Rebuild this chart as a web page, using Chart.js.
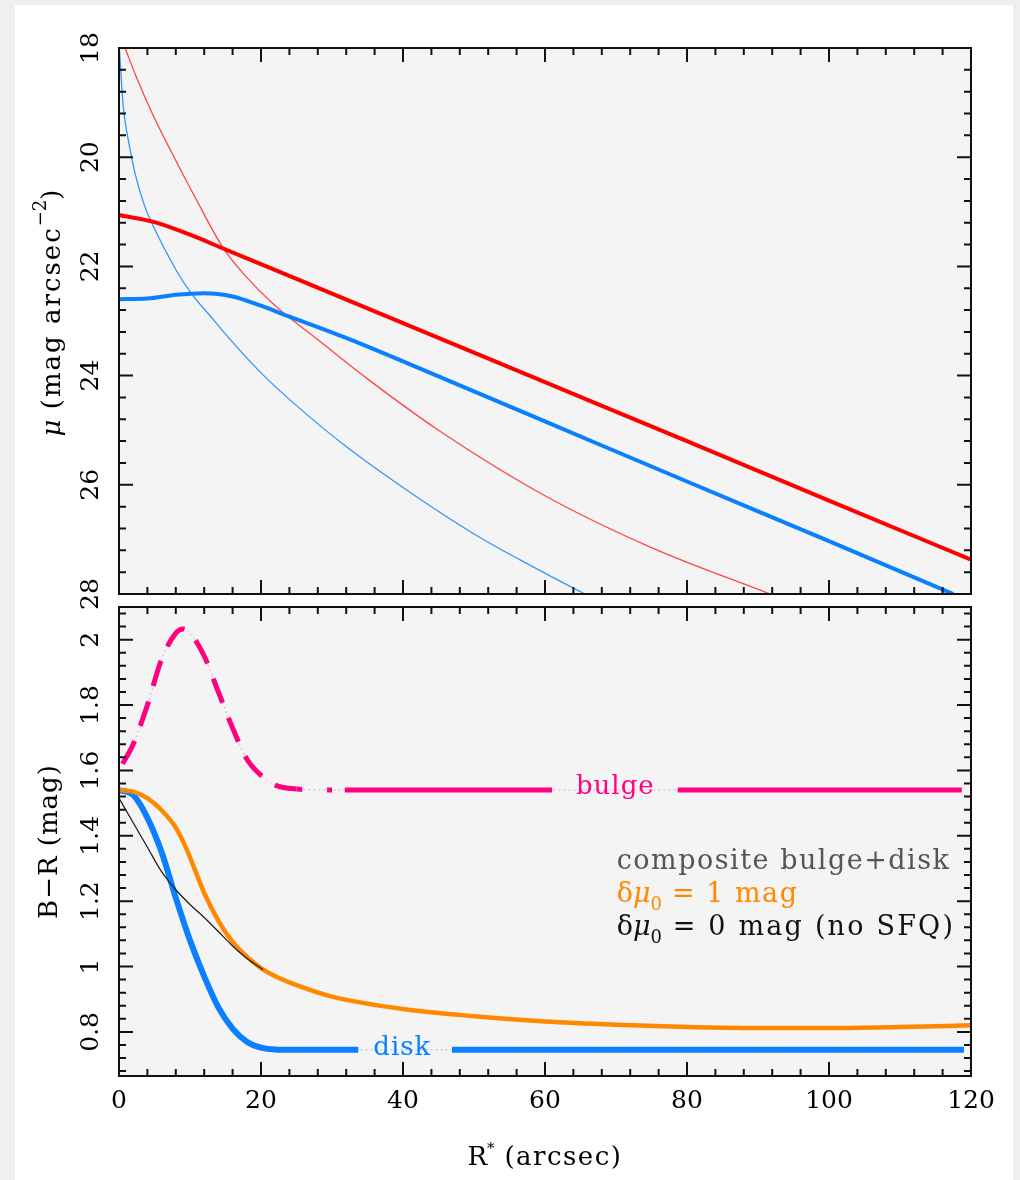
<!DOCTYPE html>
<html>
<head>
<meta charset="utf-8">
<title>Bulge and disk profiles</title>
<script src="https://cdn.jsdelivr.net/npm/chart.js@4.4.1/dist/chart.umd.min.js"></script>
<style>
  html, body { margin: 0; padding: 0; background: #efefef; }
  #card { position: absolute; left: 15px; top: 5px; width: 998px; height: 1180px; background: #fff; }
  canvas { position: absolute; left: 0; }
  #profiles { top: 0; }
  #colours { top: 600px; }
</style>
</head>
<body>
<div id="card"></div>
<canvas id="profiles" width="1020" height="615"></canvas>
<canvas id="colours" width="1020" height="580"></canvas>
<script>
// axis ticks
const xTicks = [0, 20, 40, 60, 80, 100, 120];
const muTicks = [18, 20, 22, 24, 26, 28];
const colourTicks = [0.8, 1, 1.2, 1.4, 1.6, 1.8, 2];

// surface brightness, R band (red) and B band (blue)
const diskRR = [0, 5, 10, 15, 20, 30, 40, 60, 80, 100, 120];
const diskRMu = [21.06, 21.19, 21.42, 21.69, 21.96, 22.50, 23.04, 24.12, 25.20, 26.29, 27.37];
const diskBR = [0, 4, 8, 12, 16, 20, 24, 28, 32, 40, 60, 80, 100, 117.5];
const diskBMu = [22.60, 22.59, 22.52, 22.49, 22.55, 22.72, 22.92, 23.11, 23.31, 23.74, 24.84, 25.94, 27.03, 28.0];
const bulgeRR = [0.85, 2.5, 4.8, 7.6, 10.9, 14.7, 18, 22, 27.8, 35, 45, 60, 75, 91.7];
const bulgeRMu = [18.0, 18.55, 19.23, 19.96, 20.78, 21.67, 22.2, 22.72, 23.32, 24.06, 25.0, 26.2, 27.15, 28.0];
const bulgeBR = [0.05, 0.6, 1.3, 2.25, 3.65, 4.6, 8.1, 10.2, 12.8, 15.4, 20, 25, 32, 40, 50, 58, 65.6];
const bulgeBMu = [18.0, 19.07, 19.68, 20.29, 20.91, 21.2, 22.08, 22.5, 22.9, 23.3, 23.95, 24.55, 25.3, 26.05, 26.9, 27.48, 28.0];

// B-R colour profiles
const bulgeColR = [0.5, 2, 4, 6, 8, 9, 10, 12, 14, 16, 18, 20, 22, 25, 30, 118.7];
const bulgeCol = [1.62, 1.68, 1.80, 1.94, 2.02, 2.033, 2.02, 1.95, 1.84, 1.73, 1.635, 1.585, 1.555, 1.543, 1.54, 1.54];
const diskColR = [0, 2, 4, 6, 8, 10, 12, 14, 16, 18, 20, 22, 25, 119];
const diskCol = [1.54, 1.525, 1.455, 1.35, 1.21, 1.08, 0.97, 0.875, 0.81, 0.77, 0.752, 0.746, 0.745, 0.745];
const sfqColR = [0, 2, 4, 6, 8, 9.5, 12, 14, 16, 18, 20, 22, 25, 30, 40, 50, 60, 70, 80, 90, 100, 110, 120];
const sfqCol = [1.54, 1.535, 1.515, 1.478, 1.425, 1.36, 1.225, 1.14, 1.075, 1.03, 0.995, 0.97, 0.943, 0.908, 0.87, 0.848, 0.832, 0.822, 0.815, 0.812, 0.812, 0.815, 0.82];
const noSfqColR = [0, 2, 4, 6, 8, 10, 12, 14, 16, 18, 20.3];
const noSfqCol = [1.515, 1.44, 1.365, 1.29, 1.235, 1.19, 1.15, 1.107, 1.063, 1.025, 0.99];

const FONT = '"DejaVu Serif", "Liberation Serif", serif';
const PLOT_BG = '#f4f4f4';

const pts = (xs, ys) => xs.map((x, i) => ({ x, y: ys[i] }));
const isMajor = (v, step) => Math.abs(v / step - Math.round(v / step)) < 1e-6;

// draws a row of text pieces (for sub/superscripts), left aligned or centred
function drawRuns(ctx, runs, x, y, align) {
  const widths = runs.map(r => { ctx.font = r.font; ctx.letterSpacing = r.ls || '0px'; return ctx.measureText(r.t).width; });
  const total = widths.reduce((s, w) => s + w, 0);
  let cx = align === 'center' ? x - total / 2 : x;
  ctx.textAlign = 'left';
  runs.forEach((r, i) => {
    ctx.font = r.font;
    ctx.letterSpacing = r.ls || '0px';
    if (r.color) ctx.fillStyle = r.color;
    ctx.fillText(r.t, cx, y + (r.dy || 0));
    cx += widths[i];
  });
}

// plot background, boxed frame with inward ticks, rotated y labels
const framePlugin = {
  id: 'frame',
  beforeDraw(chart) {
    const { ctx, chartArea: a } = chart;
    ctx.save();
    ctx.fillStyle = PLOT_BG;
    ctx.fillRect(a.left, a.top, a.right - a.left, a.bottom - a.top);
    ctx.restore();
  },
  afterDatasetDraw(chart, args, o) {
    // clear the line where an in-line label sits
    const gaps = (o.gaps || {})[chart.data.datasets[args.index].label];
    if (!gaps) return;
    const { ctx, scales: { x, y } } = chart;
    const last = chart.data.datasets[args.index].data.slice(-1)[0];
    ctx.save();
    ctx.fillStyle = PLOT_BG;
    gaps.forEach(([from, to]) => {
      const x0 = x.getPixelForValue(from), x1 = x.getPixelForValue(to);
      const py = y.getPixelForValue(last.y);
      ctx.fillRect(x0, py - 5, x1 - x0, 10);
    });
    ctx.restore();
  },
  afterDraw(chart, args, o) {
    const { ctx, chartArea: a, scales: { x, y } } = chart;
    ctx.save();
    ctx.strokeStyle = '#111';
    ctx.lineWidth = 2;
    ctx.beginPath();
    for (let v = x.min; v <= x.max + 1e-9; v += o.xMinor) {
      const px = x.getPixelForValue(v);
      const len = isMajor(v, o.xMajor) ? 14 : 7;
      ctx.moveTo(px, a.bottom); ctx.lineTo(px, a.bottom - len);
      ctx.moveTo(px, a.top); ctx.lineTo(px, a.top + len);
    }
    const lo = Math.min(y.min, y.max), hi = Math.max(y.min, y.max);
    for (let k = Math.ceil(lo / o.yMinor - 1e-6); k * o.yMinor <= hi + 1e-9; k++) {
      const v = k * o.yMinor;
      const py = y.getPixelForValue(v);
      const len = isMajor(v, o.yMajor) ? 14 : 7;
      ctx.moveTo(a.left, py); ctx.lineTo(a.left + len, py);
      ctx.moveTo(a.right, py); ctx.lineTo(a.right - len, py);
    }
    ctx.stroke();
    ctx.strokeRect(a.left, a.top, a.right - a.left, a.bottom - a.top);

    // y tick labels, turned to read upwards
    ctx.fillStyle = '#000';
    ctx.font = '25px ' + FONT;
    ctx.textAlign = 'center';
    ctx.textBaseline = 'middle';
    o.yLabels.forEach(v => {
      ctx.save();
      ctx.translate(a.left - 28, y.getPixelForValue(v));
      ctx.rotate(-Math.PI / 2);
      ctx.fillText(String(v), 0, 0);
      ctx.restore();
    });

    // y title
    ctx.save();
    ctx.textBaseline = 'alphabetic';
    ctx.translate(a.left - o.yTitleGap, (a.top + a.bottom) / 2 + o.yTitleShift);
    ctx.rotate(-Math.PI / 2);
    drawRuns(ctx, o.yTitle, 0, 0, 'center');
    ctx.restore();

    // x tick labels and title
    if (o.xLabels) {
      ctx.font = '25px ' + FONT;
      ctx.letterSpacing = '0px';
      ctx.textAlign = 'center';
      ctx.textBaseline = 'middle';
      o.xLabels.forEach(v => ctx.fillText(String(v), x.getPixelForValue(v), a.bottom + 25));
      ctx.textBaseline = 'alphabetic';
      drawRuns(ctx, o.xTitle, (a.left + a.right) / 2, a.bottom + 89, 'center');
    }

    // text notes placed in data coordinates
    (o.notes || []).forEach(n => {
      ctx.textBaseline = 'alphabetic';
      const px = x.getPixelForValue(n.x), py = y.getPixelForValue(n.y);
      drawRuns(ctx, n.runs, px, py, n.align);
    });
    ctx.restore();
  }
};

function line(label, xs, ys, color, width, extra) {
  return Object.assign({
    label, data: pts(xs, ys), borderColor: color, borderWidth: width,
    pointRadius: 0, fill: false, cubicInterpolationMode: 'monotone', clip: 0
  }, extra || {});
}

const baseOptions = (padding, xs, ys, frame) => ({
  responsive: false,
  animation: false,
  devicePixelRatio: 1,
  layout: { padding },
  scales: { x: Object.assign({ type: 'linear', display: false }, xs), y: Object.assign({ type: 'linear', display: false }, ys) },
  plugins: { legend: { display: false }, tooltip: { enabled: false }, frame },
  events: []
});

const reg = (s) => s + 'px ' + FONT;
const ital = (s) => 'italic ' + s + 'px ' + FONT;

// upper panel: surface brightness
new Chart(document.getElementById('profiles'), {
  type: 'line',
  data: {
    datasets: [
      line('R disk', diskRR, diskRMu, '#ff0000', 4),
      line('B disk', diskBR, diskBMu, '#0a80ff', 4),
      line('R bulge', bulgeRR, bulgeRMu, 'rgba(255,40,40,0.85)', 1.3),
      line('B bulge', bulgeBR, bulgeBMu, 'rgba(30,140,255,0.9)', 1.3)
    ]
  },
  options: baseOptions({ left: 119, right: 49, top: 48, bottom: 21 },
    { min: 0, max: 120 }, { min: 18, max: 28, reverse: true },
    {
      xMinor: 4, xMajor: 20, yMinor: 0.4, yMajor: 2, yLabels: muTicks,
      yTitleGap: 59, yTitleShift: -8,
      yTitle: [
        { t: 'μ', font: ital(26) },
        { t: ' (mag arcsec', font: reg(26), ls: '2px' },
        { t: '−2', font: reg(18), dy: -14 },
        { t: ')', font: reg(26) }
      ]
    }),
  plugins: [framePlugin]
});

// lower panel: B-R colour
new Chart(document.getElementById('colours'), {
  type: 'line',
  data: {
    datasets: [
      line('bulge faint', bulgeColR, bulgeCol, 'rgba(255,0,128,0.35)', 1, { borderDash: [2, 3], order: 0 }),
      line('disk faint', diskColR, diskCol, 'rgba(10,128,255,0.45)', 1, { borderDash: [2, 3], order: 0 }),
      line('no SFQ', noSfqColR, noSfqCol, '#222', 1.3, { order: 1 }),
      line('SFQ', sfqColR, sfqCol, '#ff8800', 4.5, { order: 2 }),
      line('disk', diskColR, diskCol, '#0a80ff', 6, { order: 3 }),
      line('bulge', bulgeColR, bulgeCol, '#ff0080', 5, {
        order: 4,
        segment: { borderDash: c => (c.p1.parsed.x <= 25.1 ? [26, 16] : undefined) }
      })
    ]
  },
  options: baseOptions({ left: 119, right: 49, top: 7, bottom: 104 },
    { min: 0, max: 120 }, { min: 0.665, max: 2.1 },
    {
      xMinor: 4, xMajor: 20, yMinor: 0.04, yMajor: 0.2, yLabels: colourTicks,
      xLabels: xTicks,
      xTitle: [
        { t: 'R', font: reg(26) },
        { t: '*', font: reg(15), dy: -12 },
        { t: ' (arcsec)', font: reg(26), ls: '1.5px' }
      ],
      yTitleGap: 62, yTitleShift: 0,
      yTitle: [{ t: 'B−R (mag)', font: reg(26), ls: '1px' }],
      gaps: { bulge: [[25.8, 29.3], [30, 31.8], [61, 78.7]], disk: [[33.7, 46.9]] },
      notes: [
        { x: 69.9, y: 1.54, align: 'center', runs: [{ t: 'bulge', font: reg(26), ls: '1px', color: '#ff0080', dy: 4 }] },
        { x: 39.9, y: 0.745, align: 'center', runs: [{ t: 'disk', font: reg(26), ls: '1px', color: '#0a80ff', dy: 5 }] },
        { x: 70.1, y: 1.298, runs: [{ t: 'composite bulge+disk', font: reg(27), ls: '1.5px', color: '#555' }] },
        { x: 70.1, y: 1.197, runs: [
          { t: 'δ', font: reg(27), color: '#ff8800' }, { t: 'μ', font: ital(27) },
          { t: '0', font: reg(18), dy: 8 }, { t: ' = 1 mag', font: reg(27), ls: '1.5px' }
        ] },
        { x: 70.1, y: 1.097, runs: [
          { t: 'δ', font: reg(27), color: '#111' }, { t: 'μ', font: ital(27) },
          { t: '0', font: reg(18), dy: 8 }, { t: ' = 0 mag (no SFQ)', font: reg(27), ls: '2.2px' }
        ] }
      ]
    }),
  plugins: [framePlugin]
});
</script>
</body>
</html>
